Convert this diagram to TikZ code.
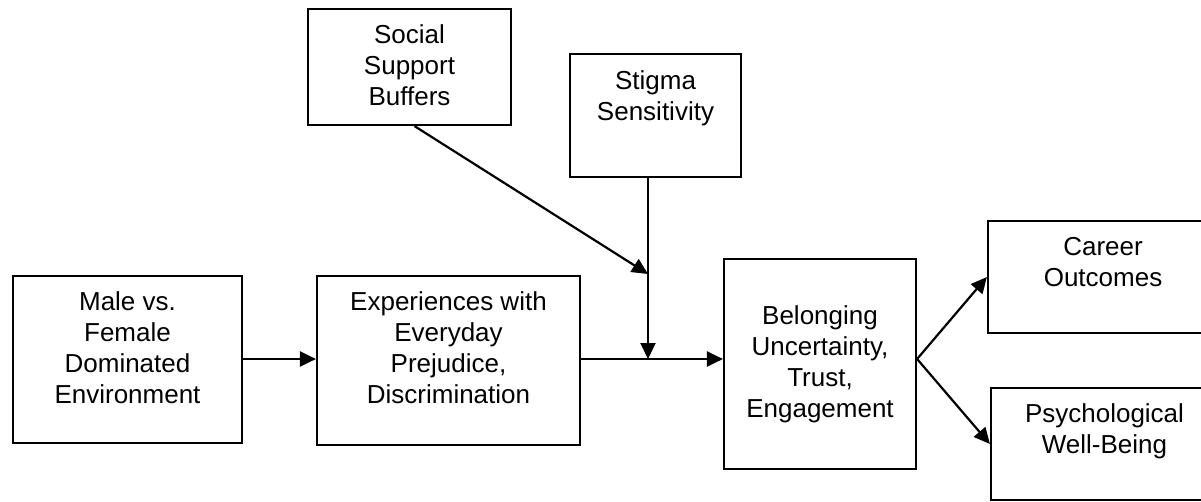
\documentclass[tikz,border=0pt]{standalone}
\usepackage{fontspec}
\setmainfont{Liberation Sans}
\usetikzlibrary{arrows.meta}
\begin{document}
\begin{tikzpicture}[x=1pt,y=-1pt,
  box/.style={draw=black,line width=2.2pt,rectangle,inner sep=0pt},
  label text/.style={align=center,inner sep=0pt,font=\fontsize{26}{31}\selectfont},
  flow/.style={line width=2.2pt,-{Triangle[length=16pt,width=15pt]}},
  plain/.style={line width=2.2pt}]
\useasboundingbox (0,0) rectangle (1201,502);
\clip (0,0) rectangle (1201,502);
% boxes
\node[box,minimum width=229pt,minimum height=167pt] (env) at (127.5,359.5) {};
\node[box,minimum width=263pt,minimum height=169pt] (exp) at (448.5,360.5) {};
\node[box,minimum width=203pt,minimum height=116pt] (soc) at (409.5,67) {};
\node[box,minimum width=171pt,minimum height=123pt] (stig) at (655.5,115.5) {};
\node[box,minimum width=192pt,minimum height=210pt] (bel) at (820,364) {};
\node[box,minimum width=230pt,minimum height=112pt] (car) at (1103,277) {};
\node[box,minimum width=227pt,minimum height=112pt] (psy) at (1104.5,444) {};
% texts
\node[label text,anchor=north] (envt) at ([yshift=-17pt]env.north) {Male vs.\\Female\\Dominated\\Environment};
\node[label text,anchor=north] (expt) at ([yshift=-17pt]exp.north) {Experiences with\\Everyday\\Prejudice,\\Discrimination};
\node[label text,anchor=north] (soct) at ([yshift=-17pt]soc.north) {Social\\Support\\Buffers};
\node[label text,anchor=north] (stigt) at ([yshift=-18pt]stig.north) {Stigma\\Sensitivity};
\node[label text] (belt) at (bel.center) {Belonging\\Uncertainty,\\Trust,\\Engagement};
\node[label text,anchor=north] (cart) at ([yshift=-17pt]car.north) {Career\\Outcomes};
\node[label text,anchor=north] (psyt) at ([yshift=-17pt]psy.north) {Psychological\\Well-Being};
% junctions
\coordinate (m) at (648,359);
\coordinate (k) at (648,274);
\coordinate (b) at (bel.east |- m);
% connectors
\draw[flow] (env.east |- m) -- (m -| exp.west);
\draw[plain] (exp.east |- m) -- (m);
\draw[flow] (m) -- (m -| bel.west);
\draw[flow] (stig.south -| m) -- (m);
\draw[flow] ([xshift=5pt]soc.south) -- (k);
\draw[flow] (b) -- (car.west);
\draw[flow] (b) -- (psy.west);
\end{tikzpicture}
\end{document}
